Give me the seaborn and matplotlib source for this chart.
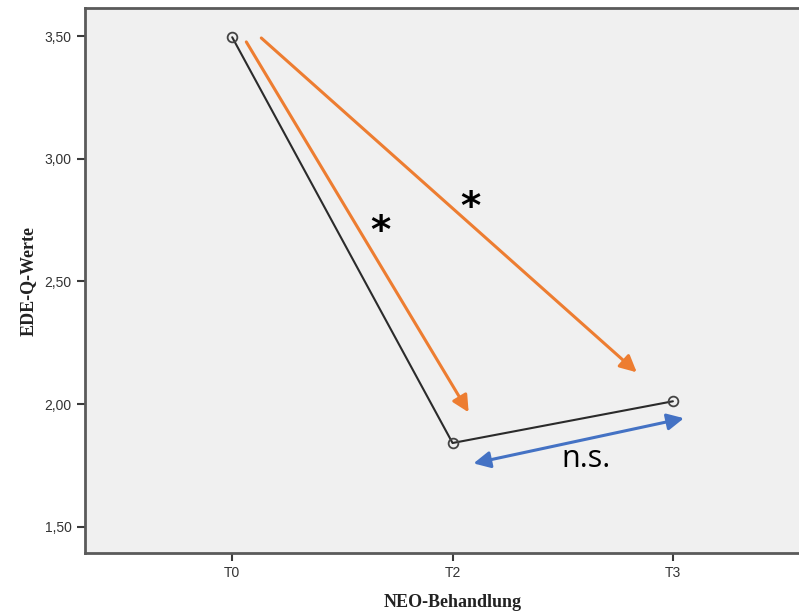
import matplotlib
matplotlib.use("Agg")
import matplotlib.pyplot as plt
import seaborn as sns
import pandas as pd

# Mean EDE-Q scores across NEO treatment time points
timepoints = ["T0", "T2", "T3"]
ede_q_means = [3.495, 1.842, 2.012]
y_ticks = [1.50, 2.00, 2.50, 3.00, 3.50]
y_tick_labels = ["1,50", "2,00", "2,50", "3,00", "3,50"]

df = pd.DataFrame({"Zeitpunkt": timepoints, "EDE-Q": ede_q_means})

sns.set_theme(style="white")
fig = plt.figure(figsize=(7.99, 6.13), dpi=100)
ax = fig.add_axes([0.1064, 0.0979, 0.92, 0.889])
ax.set_facecolor("#f0f0f0")

sns.lineplot(data=df, x="Zeitpunkt", y="EDE-Q", ax=ax, color="#2b2b2b",
             linewidth=1.5, marker="o", markersize=7, markerfacecolor="none",
             markeredgecolor="#444444", markeredgewidth=1.3, sort=False)

ax.set_xlim(-0.668, 2.668)
ax.set_ylim(1.394, 3.614)
ax.set_yticks(y_ticks)
ax.set_yticklabels(y_tick_labels)

for s in ax.spines.values():
    s.set_color("#5a5a5a")
    s.set_linewidth(2)
    s.set_visible(True)

ax.tick_params(axis="both", direction="out", length=6, width=1.5,
               colors="#3a3a3a", labelsize=10, left=True, bottom=True)
for lab in ax.get_xticklabels() + ax.get_yticklabels():
    lab.set_family("Liberation Sans")
    lab.set_color("#333333")

ax.set_xlabel("NEO-Behandlung", family="Liberation Serif", fontweight="bold",
              fontsize=13, color="#222222", labelpad=10)
ax.set_ylabel("EDE-Q-Werte", family="Liberation Serif", fontweight="bold",
              fontsize=13, color="#222222", labelpad=6)

orange = "#ED7D31"
blue = "#4472C4"

# significance arrows
ax.annotate("", xy=(1.073, 1.967), xytext=(0.064, 3.476),
            arrowprops=dict(arrowstyle="-|>", color=orange, lw=2.2,
                            mutation_scale=25, shrinkA=0, shrinkB=0))
ax.annotate("", xy=(1.836, 2.130), xytext=(0.132, 3.492),
            arrowprops=dict(arrowstyle="-|>", color=orange, lw=2.2,
                            mutation_scale=25, shrinkA=0, shrinkB=0))
ax.annotate("", xy=(2.05, 1.943), xytext=(1.095, 1.759),
            arrowprops=dict(arrowstyle="<|-|>", color=blue, lw=2.2,
                            mutation_scale=25, shrinkA=0, shrinkB=0))

ax.text(0.673, 2.70, "*", fontsize=28, fontweight="bold", ha="center",
        va="center", color="black", family="DejaVu Sans")
ax.text(1.082, 2.80, "*", fontsize=28, fontweight="bold", ha="center",
        va="center", color="black", family="DejaVu Sans")
ax.text(1.605, 1.775, "n.s.", fontsize=22, ha="center", va="center",
        color="black", family="Open Sans")

fig.savefig("out.png", dpi=100)
